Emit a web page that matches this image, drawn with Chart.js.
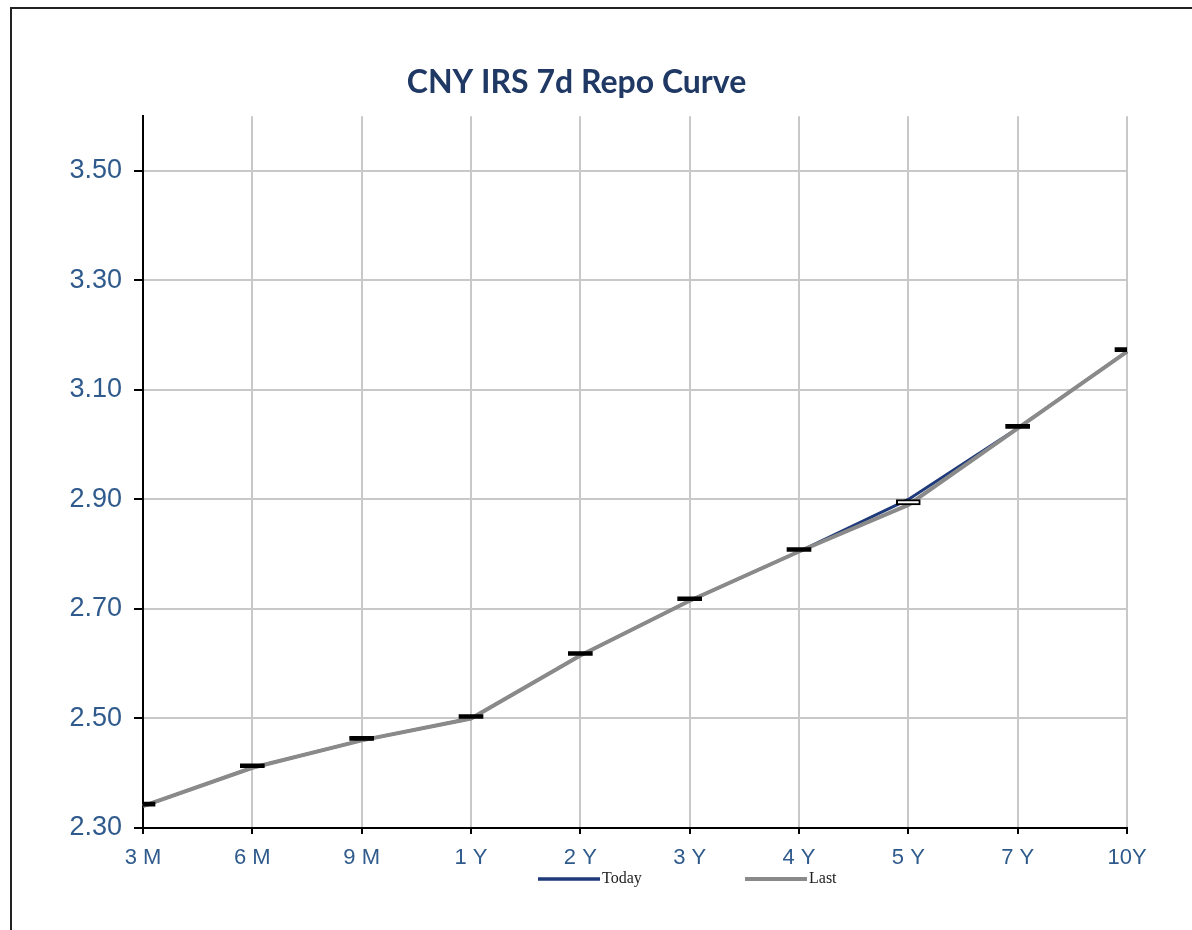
<!DOCTYPE html>
<html>
<head>
<meta charset="utf-8">
<script src="https://cdn.jsdelivr.net/npm/chart.js@4.4.1/dist/chart.umd.min.js"></script>
<style>
  html, body { margin: 0; padding: 0; background: #fff; }
  body { width: 1192px; height: 930px; position: relative; overflow: hidden; }
  #frame { position: absolute; left: 10px; top: 7px; width: 1300px; height: 1100px;
           border-left: 2px solid #222; border-top: 2px solid #222; }
  #c { position: absolute; left: 0; top: 0; }
</style>
</head>
<body>
<div id="frame"></div>
<canvas id="c" width="1192" height="930"></canvas>
<script>
const titleText = 'CNY IRS 7d Repo Curve';
const categories = ['3 M', '6 M', '9 M', '1 Y', '2 Y', '3 Y', '4 Y', '5 Y', '7 Y', '10Y'];
const todayValues = [2.34, 2.41, 2.46, 2.50, 2.615, 2.715, 2.805, 2.90, 3.03, 3.17];
const lastValues  = [2.34, 2.41, 2.46, 2.50, 2.615, 2.715, 2.805, 2.89, 3.03, 3.17];
const yTickValues = [2.30, 2.50, 2.70, 2.90, 3.10, 3.30, 3.50];
const yMin = 2.30, yMax = 3.60;
const seriesNames = ['Today', 'Last'];

const upDown = categories.map((c, i) => [Math.min(todayValues[i], lastValues[i]), Math.max(todayValues[i], lastValues[i])]);

const legendPlugin = {
  id: 'customLegend',
  afterDraw(chart) {
    const ctx = chart.ctx;
    const pos = [538, 745];
    const y = 879;
    ctx.save();
    [0, 1].forEach((di, k) => {
      const ds = chart.data.datasets[di];
      ctx.strokeStyle = ds.borderColor;
      ctx.lineWidth = di === 0 ? 3.5 : 4;
      ctx.beginPath();
      ctx.moveTo(pos[k], y);
      ctx.lineTo(pos[k] + 62, y);
      ctx.stroke();
      ctx.fillStyle = '#222';
      ctx.font = '16px "Liberation Serif"';
      ctx.textBaseline = 'middle';
      ctx.textAlign = 'left';
      ctx.fillText(ds.label, pos[k] + 64, y);
    });
    ctx.restore();
  }
};

new Chart(document.getElementById('c'), {
  data: {
    labels: categories,
    datasets: [
      {
        type: 'line', label: seriesNames[0], data: todayValues,
        borderColor: '#1F3A7A', borderWidth: 3, pointRadius: 0, tension: 0, order: 3
      },
      {
        type: 'line', label: seriesNames[1], data: lastValues,
        borderColor: '#8A8A8A', borderWidth: 4, pointRadius: 0, tension: 0, order: 2
      },
      {
        type: 'bar', label: 'UpDown', data: upDown, order: 1,
        barThickness: 24, minBarLength: 4, clip: 0,
        backgroundColor: ctx => (todayValues[ctx.dataIndex] > lastValues[ctx.dataIndex] ? '#ffffff' : '#000000'),
        borderColor: '#000000',
        borderWidth: ctx => (todayValues[ctx.dataIndex] !== lastValues[ctx.dataIndex] ? 2 : 0),
        borderSkipped: false
      }
    ]
  },
  options: {
    responsive: false,
    animation: false,
    devicePixelRatio: 1,
    layout: { padding: { left: 26, right: 65, top: 0, bottom: 0 } },
    plugins: {
      legend: { display: false },
      tooltip: { enabled: false },
      title: {
        display: true, text: titleText, color: '#1F3864',
        font: { family: 'Lato', weight: 'bold', size: 32, lineHeight: 1.1 },
        padding: { top: 65, bottom: 16 }
      }
    },
    scales: {
      x: {
        type: 'category', offset: false,
        grid: { offset: false, color: '#C8C8C8', lineWidth: 2, tickColor: '#000', tickLength: 6, tickWidth: 2, drawTicks: true },
        border: { color: '#000', width: 2 },
        ticks: { color: '#2F5A8C', font: { family: 'Liberation Sans', size: 22 }, padding: 11, maxRotation: 0, autoSkip: false },
        afterFit(scale) { scale.height = 102; }
      },
      y: {
        type: 'linear', min: yMin, max: yMax,
        afterBuildTicks(scale) { scale.ticks = yTickValues.map(v => ({ value: v })); },
        grid: { color: '#C8C8C8', lineWidth: 2, tickColor: '#000', tickLength: 9, tickWidth: 2 },
        border: { color: '#000', width: 2 },
        ticks: { color: '#2F5A8C', font: { family: 'Liberation Sans', size: 27 }, padding: 12,
                 callback: v => Number(v).toFixed(2) },
        afterFit(scale) { scale.width = 117; }
      }
    }
  },
  plugins: [legendPlugin]
});
</script>
</body>
</html>
